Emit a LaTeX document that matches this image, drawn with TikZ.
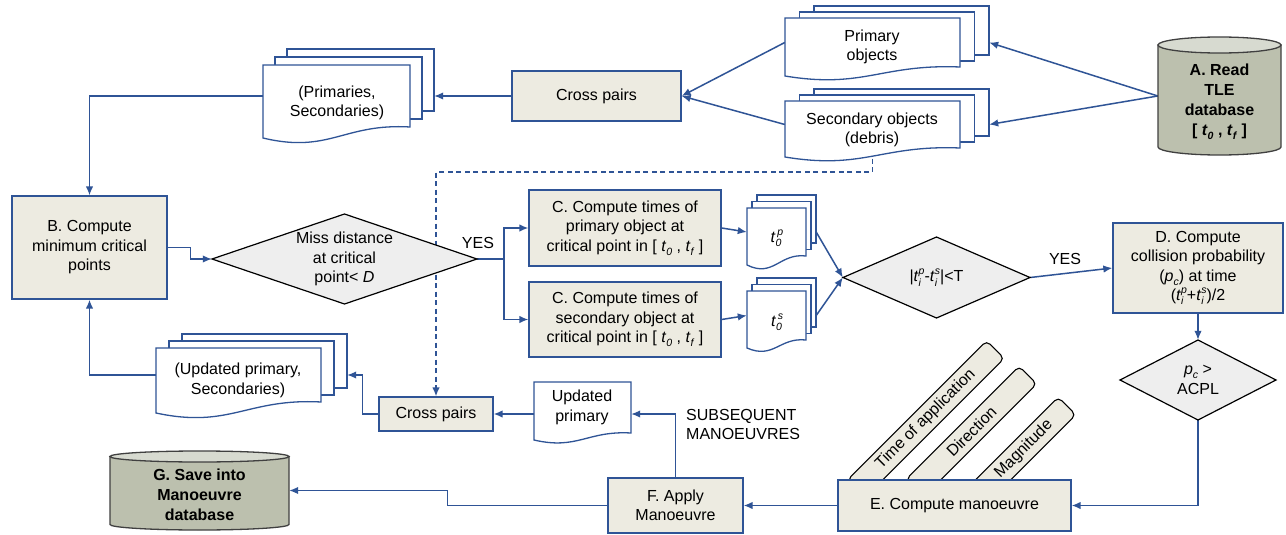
\documentclass[tikz,border=0pt]{standalone}
\usepackage{fontspec}
\setmainfont{Liberation Sans}
\usetikzlibrary{arrows.meta,fit,backgrounds}

\definecolor{flowblue}{RGB}{47,84,150}
\definecolor{procfill}{RGB}{237,235,225}
\definecolor{decfill}{RGB}{238,238,238}
\definecolor{dbfill}{RGB}{188,192,174}
\definecolor{dbtop}{RGB}{215,218,208}
\definecolor{dbline}{RGB}{64,64,64}

% small subscript and stacked sub/superscript in text
\newcommand\subs[1]{\raisebox{-0.45ex}{\fontsize{10.5}{10.5}\selectfont #1}}
\newcommand\supsub[2]{\rlap{\raisebox{-0.5ex}{\fontsize{10.5}{10.5}\selectfont #1}}\raisebox{0.85ex}{\fontsize{10.5}{10.5}\selectfont #2}}

\tikzset{
  every node/.style={font=\fontsize{16}{19.5}\selectfont, align=center},
  conn/.style={draw=flowblue, line width=1.5pt},
  arr/.style={conn, -{Latex[length=9pt,width=7.5pt]}},
  proc/.style={draw=flowblue, fill=procfill, line width=1.3pt, inner sep=0pt},
  docline/.style={draw=flowblue, fill=white, line width=1.3pt},
  txt/.style={inner sep=0pt},
  stripbox/.style={draw=black, fill=procfill, line width=1.1pt, rounded corners=5pt,
    rotate=45, minimum height=25pt, inner sep=0pt},
  decshape/.style={draw=black, fill=decfill, line width=1.2pt},
  dbbody/.style={draw=dbline, fill=dbfill, line width=1.3pt},
  dbcap/.style={draw=dbline, fill=dbtop, line width=1.3pt},
}

% document with wavy bottom: name, x1, ytop, x2, ybottom(left), wave
\newcommand\docfront[6]{%
  \filldraw[docline] (#2,#3) -- (#4,#3) -- (#4,{#5-#6})
    .. controls ({#2+0.55*(#4-#2)},{#5-1.36*#6}) and ({#2+0.45*(#4-#2)},{#5+1.45*#6}) .. (#2,#5) -- cycle;
  \node[fit={(#2,#3) (#4,{#5-#6})}, inner sep=0pt] (#1) {};}
% stacked documents: same, plus offset dx, dy of the sheets behind
\newcommand\multidoc[8]{%
  \filldraw[docline] ({#2+2*#7},{#3+2*#8}) rectangle ({#4+2*#7},{#5-#6+2*#8});
  \filldraw[docline] ({#2+#7},{#3+#8}) rectangle ({#4+#7},{#5-#6+#8});
  \docfront{#1}{#2}{#3}{#4}{#5}{#6}}
% decision diamond: name, cx, cy, width, height, text
\newcommand\decision[6]{%
  \filldraw[decshape] ({#2-#4/2},#3) -- (#2,{#3-#5/2}) -- ({#2+#4/2},#3) -- (#2,{#3+#5/2}) -- cycle;
  \node[inner sep=0pt, minimum width=#4pt, minimum height=#5pt] (#1) at (#2,#3) {#6};}
% database cylinder: name, x1, ytop, x2, ybottom, ry
\newcommand\database[6]{%
  \filldraw[dbbody] (#2,{#3+#6}) -- (#2,{#5-#6})
    .. controls (#2,{#5-0.45*#6}) and ({(#2+#4)/2-0.5523*(#4-#2)/2},#5) .. ({(#2+#4)/2},#5)
    .. controls ({(#2+#4)/2+0.5523*(#4-#2)/2},#5) and (#4,{#5-0.45*#6}) .. (#4,{#5-#6})
    -- (#4,{#3+#6}) -- cycle;
  \filldraw[dbcap] ({(#2+#4)/2},{#3+#6}) ellipse [x radius={(#4-#2)/2}, y radius=#6];
  \node[fit={(#2,#3) (#4,#5)}, inner sep=0pt] (#1) {};}

\begin{document}
\begin{tikzpicture}[x=1pt,y=-1pt]
\useasboundingbox (0,0) rectangle (1286,535);

% ---- top row: inputs and first pairing
\database{A}{1158}{37}{1281}{155}{8}
\node[txt, font=\fontsize{16}{20}\selectfont\bfseries] (Atxt) at (1219.5,102)
  {A. Read\\TLE\\database\\{[} \textit{t}\subs{\textit{0}} , \textit{t}\subs{\textit{f}} {]}};

\multidoc{po}{785}{18}{960}{76}{9}{14.5}{-6}
\node[txt] (potxt) at (872,47) {Primary\\objects};
\multidoc{so}{785}{101}{960}{157}{9}{14.5}{-6}
\node[txt] (sotxt) at (872,130) {Secondary objects\\(debris)};

\node[proc, minimum width=169pt, minimum height=50pt] (cp1) at (596.5,96) {Cross pairs};

\multidoc{ps}{263}{65}{410}{138}{11}{12}{-8}
\node[txt] (pstxt) at (337,103) {(Primaries,\\Secondaries)};

% ---- middle row: screening
\node[proc, minimum width=155pt, minimum height=103pt] (B) at (89.5,247.5)
  {B. Compute\\minimum critical\\points};
\decision{d1}{344.5}{259}{265}{90}{Miss distance\\at critical\\point< \textit{D}}
\node[txt] (yes1) at (478,243) {YES};

\node[proc, minimum width=192pt, minimum height=76pt] (C1) at (625,228)
  {C. Compute times of\\primary object at\\critical point in [ \textit{t}\subs{\textit{0}} , \textit{t}\subs{\textit{f}} ]};
\node[proc, minimum width=192pt, minimum height=75pt] (C2) at (625,319.5)
  {C. Compute times of\\secondary object at\\critical point in [ \textit{t}\subs{\textit{0}} , \textit{t}\subs{\textit{f}} ]};

\multidoc{tp}{747}{208}{806}{265}{9}{5}{-6.5}
\node[txt] (tptxt) at (777,238) {\textit{t}\supsub{\textit{0}}{\,\textit{p}}};
\multidoc{ts}{747}{291}{806}{348}{8}{5}{-6.5}
\node[txt] (tstxt) at (777,322) {\textit{t}\supsub{\textit{0}}{\,\textit{s}}};

\decision{d2}{936.5}{277.5}{187}{81}
  {|\textit{t}\supsub{\textit{i}}{\textit{p}}-\textit{t}\supsub{\textit{i}}{\textit{s}}|<T}
\node[txt] (yes2) at (1065,259) {YES};

\node[proc, minimum width=170pt, minimum height=90pt] (D) at (1198,268)
  {D. Compute\\collision probability\\(\textit{p}\subs{\textit{c}}) at time\\(\textit{t}\supsub{\textit{i}}{\textit{p}}+\textit{t}\supsub{\textit{i}}{\textit{s}})/2};
\decision{d3}{1198}{380}{156}{80}{\textit{p}\subs{\textit{c}} >\\ACPL}

% ---- lower rows: manoeuvre loop
\multidoc{ups}{156}{348}{321}{413}{11}{13}{-7}
\node[txt] (upstxt) at (238,380.5) {(Updated primary,\\Secondaries)};
\node[proc, minimum width=114pt, minimum height=34pt] (cp2) at (436,414) {Cross pairs};
\docfront{upd}{534}{382}{631}{440}{7}
\node[txt] (updtxt) at (582,407.5) {Updated\\primary};
\node[txt, anchor=west, align=left] (subs) at (686,424.5) {SUBSEQUENT\\MANOEUVRES};

\node[stripbox, minimum width=197pt] (s1) at (925.8,419.2) {Time of application};
\node[stripbox, minimum width=160pt] (s2) at (971.4,431.6) {Direction};
\node[stripbox, minimum width=122pt] (s3) at (1023.9,449.1) {Magnitude};
\node[proc, minimum width=233pt, minimum height=51pt] (E) at (954.5,505.5) {E. Compute manoeuvre};
\node[proc, minimum width=135pt, minimum height=55pt] (F) at (675.5,505.5) {F. Apply\\Manoeuvre};

\database{G}{110}{451}{289}{530}{5.5}
\node[txt, font=\fontsize{16}{20}\selectfont\bfseries] (Gtxt) at (199.5,495)
  {G. Save into\\Manoeuvre\\database};

\coordinate (dashturn) at (436,172);

% ---- connectors, kept beneath the shapes
\begin{pgfonlayer}{background}
  \fill[white] (0,0) rectangle (1286,535);
  \draw[arr] (A.west) -- ([xshift=29pt]po.east);
  \draw[arr] (A.west) -- ([xshift=29pt]so.east);
  \draw[arr] (po.west) -- (cp1.east);
  \draw[arr] (so.west) -- (cp1.east);
  \draw[arr] (cp1.west) -- ([xshift=24pt]ps.east);
  \draw[arr] (ps.west) -| (B.north);
  \draw[arr] (B.east) -- ++(23,0) |- (d1.west);
  \draw[arr] (d1.east) -- ++(27,0) |- (C1.west);
  \draw[arr] (d1.east) -- ++(27,0) |- (C2.west);
  \draw[arr] (C1.east) -- (tp.west);
  \draw[arr] (C2.east) -- (ts.west);
  \draw[arr] ([xshift=10pt]tp.east) -- (d2.west);
  \draw[arr] ([xshift=10pt]ts.east) -- (d2.west);
  \draw[arr] (d2.east) -- (D.west);
  \draw[arr] (D.south) -- (d3.north);
  \draw[arr] (d3.south) |- (E.east);
  \draw[arr] (E.west) -- (F.east);
  \draw[arr] (F.west) -- ++(-160,0) |- (G.east);
  \draw[arr] (F.north) |- (upd.east |- cp2.east);
  \draw[arr] (upd.west |- cp2.east) -- (cp2.east);
  \draw[arr] (cp2.west) -- ++(-16,0) |- ([xshift=26pt]ups.east);
  \draw[arr] (ups.west) -| (B.south);
  \draw[arr, dash pattern=on 5pt off 3.5pt] (so.center) |- (dashturn) -- (cp2.north);
\end{pgfonlayer}
\end{tikzpicture}
\end{document}
